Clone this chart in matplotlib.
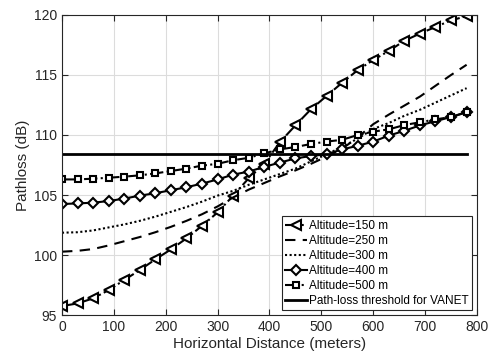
import matplotlib
matplotlib.use('Agg')
import matplotlib.pyplot as plt

plt.rcParams['font.family'] = ['Liberation Sans', 'DejaVu Sans']

# horizontal distance (m), sampled every 30 m
dist = [0, 30, 60, 90, 120, 150, 180, 210, 240, 270, 300, 330, 360, 390,
        420, 450, 480, 510, 540, 570, 600, 630, 660, 690, 720, 750, 780]

alt150 = [95.75, 95.97, 96.39, 97.08, 97.92, 98.75, 99.64, 100.47, 101.39,
          102.44, 103.55, 104.95, 106.4, 107.6, 109.4, 110.8, 112.15, 113.25,
          114.35, 115.4, 116.25, 117.0, 117.85, 118.45, 119.0, 119.55, 119.9]
alt250 = [100.28, 100.35, 100.5, 100.8, 101.15, 101.5, 101.9, 102.35, 102.85,
          103.4, 104.05, 104.8, 105.45, 106.0, 106.55, 107.05, 107.6, 108.2,
          108.85, 109.8, 110.9, 111.7, 112.45, 113.2, 114.1, 115.0, 115.85]
alt300 = [101.86, 101.9, 102.05, 102.3, 102.55, 102.85, 103.2, 103.6, 104.0,
          104.45, 104.95, 105.35, 105.85, 106.3, 106.75, 107.2, 107.8, 108.4,
          109.0, 109.7, 110.5, 111.0, 111.6, 112.1, 112.7, 113.3, 113.9]
alt400 = [104.25, 104.3, 104.36, 104.5, 104.7, 104.95, 105.15, 105.4, 105.65,
          105.95, 106.3, 106.7, 106.95, 107.35, 107.7, 108.05, 108.25, 108.4,
          108.8, 109.1, 109.45, 109.95, 110.35, 110.8, 111.15, 111.5, 111.9]
alt500 = [106.3, 106.3, 106.36, 106.44, 106.53, 106.64, 106.8, 107.0, 107.2,
          107.45, 107.6, 107.9, 108.1, 108.47, 108.8, 109.0, 109.25, 109.45,
          109.6, 110.0, 110.28, 110.47, 110.83, 111.06, 111.3, 111.5, 111.9]
threshold = 108.42

fig = plt.figure(figsize=(4.92, 3.56), dpi=100)
ax = fig.add_axes([0.126, 0.115, 0.8435, 0.843])

lw = 1.5
ax.plot(dist, alt150, color='black', lw=lw, ls='-.', marker='<', ms=6.5,
        mfc='white', mew=1.5, label='Altitude=150 m')
ax.plot(dist, alt250, color='black', lw=lw, ls=(0, (5, 3.5)),
        label='Altitude=250 m')
ax.plot(dist, alt300, color='black', lw=lw, ls=(0, (1, 1.2)),
        label='Altitude=300 m')
ax.plot(dist, alt400, color='black', lw=lw, ls='-', marker='D', ms=5.5,
        mfc='white', mew=1.5, label='Altitude=400 m')
ax.plot(dist, alt500, color='black', lw=lw, ls='-.', marker='s', ms=5,
        mfc='white', mew=1.5, label='Altitude=500 m')
ax.plot([dist[0], dist[-1]], [threshold, threshold], color='black', lw=2,
        label='Path-loss threshold for VANET')

ax.set_xlim(0, 800)
ax.set_ylim(95, 120)
ax.set_xticks(range(0, 801, 100))
ax.set_yticks(range(95, 121, 5))
ax.grid(True, color='#dcdcdc', lw=0.8)
ax.set_axisbelow(True)
ax.tick_params(direction='in', top=True, right=True, labelsize=10,
               length=4, colors='#262626')
for s in ax.spines.values():
    s.set_color('#262626')
    s.set_linewidth(0.8)

ax.set_xlabel('Horizontal Distance (meters)', fontsize=11, color='#262626',
              labelpad=2)
ax.set_ylabel('Pathloss (dB)', fontsize=11, color='#262626', labelpad=3)

leg = ax.legend(loc='lower right', fontsize=8.5, handlelength=1.8,
                handletextpad=0.2, labelspacing=0.25, borderpad=0.3,
                borderaxespad=0.4, fancybox=False, framealpha=1,
                edgecolor='#262626')
leg.get_frame().set_linewidth(0.8)

fig.savefig('out.png', dpi=100)
